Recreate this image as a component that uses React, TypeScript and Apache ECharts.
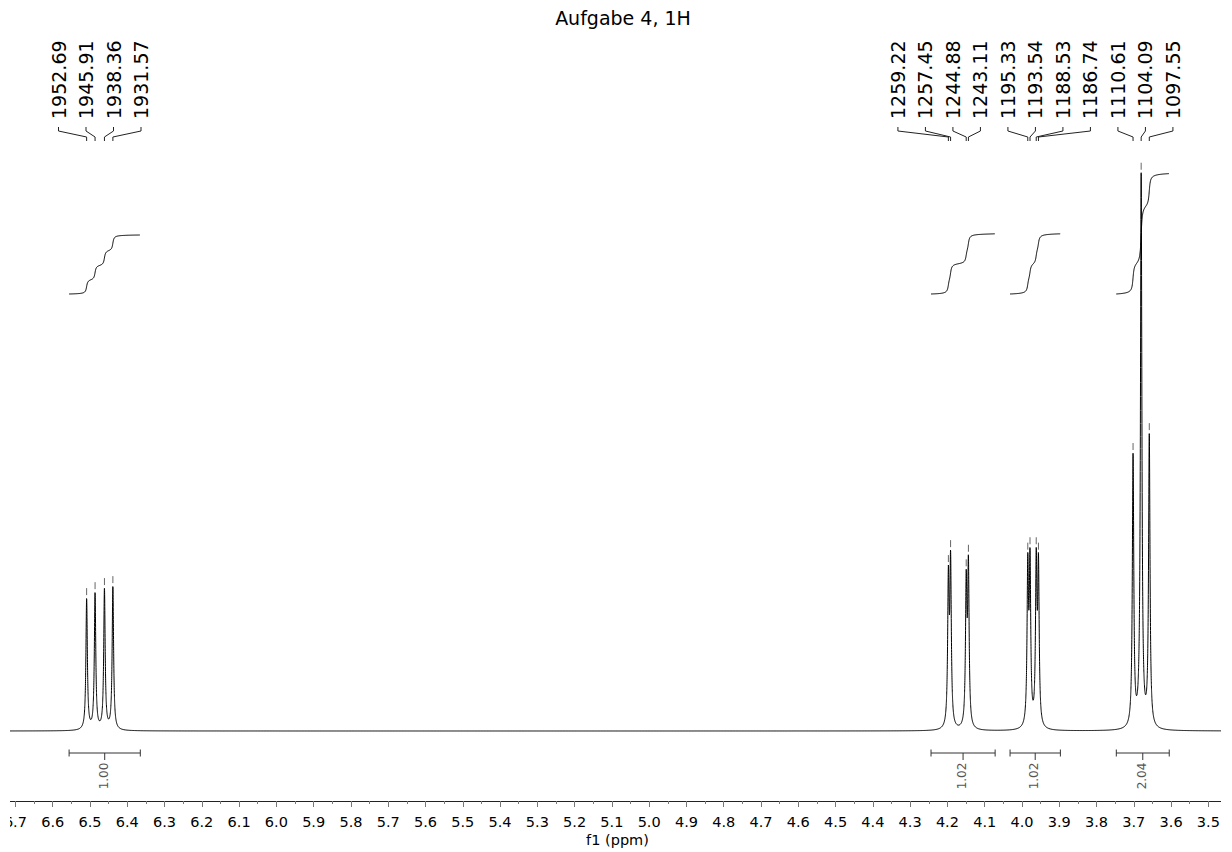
import React, { useEffect, useRef } from "react";
import * as echarts from "echarts";

// 1H spectrum, 300 MHz; peak positions are the picked line positions in Hz
const SPEC_FREQ_MHZ = 300;
const peakHz = [
  1952.69, 1945.91, 1938.36, 1931.57,
  1259.22, 1257.45, 1244.88, 1243.11,
  1195.33, 1193.54, 1188.53, 1186.74,
  1110.61, 1104.09, 1097.55,
];
// line amplitudes (arbitrary intensity units, baseline = 0)
const peakHeight = [
  131, 136, 140, 143,
  144, 161, 140, 157,
  155, 159, 159, 155,
  271, 552, 291,
];
// half width at half maximum of every line, ppm
const LINE_HWHM = 0.0023;

// peak label groups (indices into peakHz)
const labelGroups = [
  [0, 1, 2, 3],
  [4, 5, 6, 7, 8, 9, 10, 11, 12, 13, 14],
];

// integration regions, ppm (left edge, right edge) and normalised integrals
const integralStart = [6.556, 4.244, 4.032, 3.747];
const integralEnd = [6.365, 4.072, 3.897, 3.605];
const integralValue = [1.0, 1.02, 1.02, 2.04];

// axis range and ticks
const AXIS_MIN = 3.4;
const AXIS_MAX = 6.8;
const TICK_STEP = 0.1;

const TITLE = "Aufgabe 4, 1H";
const AXIS_NAME = "f1 (ppm)";

// layout of the integral traces and bars, in intensity units
const INT_BASE = 437;
const INT_UNIT = 59;
const INT_BAR_LEVEL = -22;

const FONT = "DejaVu Sans";

const peakPpm = peakHz.map((hz) => hz / SPEC_FREQ_MHZ);

function intensity(ppm: number): number {
  let s = 0;
  for (let i = 0; i < peakPpm.length; i++) {
    const d = (ppm - peakPpm[i]) / LINE_HWHM;
    s += peakHeight[i] / (1 + d * d);
  }
  return s;
}

function buildSpectrum(): number[][] {
  const pts: number[][] = [];
  let p = AXIS_MAX;
  while (p >= AXIS_MIN) {
    pts.push([p, intensity(p)]);
    const near = peakPpm.some((q) => Math.abs(q - p) < 0.03);
    p -= near ? 0.0001 : 0.002;
  }
  return pts;
}

function buildIntegral(k: number): number[][] {
  const a = integralStart[k];
  const b = integralEnd[k];
  const step = 0.0001;
  const xs: number[] = [];
  const cum: number[] = [];
  let acc = 0;
  for (let p = a; p >= b; p -= step) {
    acc += intensity(p) * step;
    xs.push(p);
    cum.push(acc);
  }
  const total = acc || 1;
  return xs.map((x, i) => [x, INT_BASE + (cum[i] / total) * integralValue[k] * INT_UNIT]);
}

export default function App() {
  const ref = useRef<HTMLDivElement>(null);

  useEffect(() => {
    if (!ref.current) return;
    const chart = echarts.init(ref.current, undefined, { renderer: "svg" });

    const integralSeries = integralValue.map((_, k) => ({
      type: "line",
      data: buildIntegral(k),
      showSymbol: false,
      symbol: "none",
      silent: true,
      lineStyle: { color: "#000", width: 1 },
    }));

    chart.setOption({
      animation: false,
      grid: {
        left: 8.14,
        right: 24.34,
        top: 131,
        bottom: 51,
        containLabel: false,
        outerBoundsMode: "none",
      },
      xAxis: {
        type: "value",
        min: AXIS_MIN,
        max: AXIS_MAX,
        interval: TICK_STEP,
        inverse: true,
        axisLine: { onZero: false, lineStyle: { color: "#222", width: 1 } },
        axisTick: { length: 6, lineStyle: { color: "#777" } },
        minorTick: { show: true, splitNumber: 2, length: 3, lineStyle: { color: "#777" } },
        splitLine: { show: false },
        minorSplitLine: { show: false },
        axisLabel: {
          margin: 13,
          fontSize: 14.5,
          fontFamily: FONT,
          color: "#000",
          showMinLabel: true,
          showMaxLabel: true,
          formatter: (v: number) => v.toFixed(1),
        },
      },
      yAxis: { type: "value", min: -70, max: 600, show: false },
      series: [
        {
          type: "line",
          data: buildSpectrum(),
          showSymbol: false,
          symbol: "none",
          silent: true,
          lineStyle: { color: "#000", width: 1 },
        },
        ...integralSeries,
      ],
    });

    const toPx = (x: number, y: number) =>
      chart.convertToPixel({ gridIndex: 0 }, [x, y]) as number[];

    const graphics: any[] = [];

    // title and axis name
    const titleX = 653;
    graphics.push({
      type: "text",
      x: titleX,
      y: 18,
      silent: true,
      style: { text: TITLE, fontFamily: FONT, fontSize: 19, fill: "#000", align: "center", verticalAlign: "middle" },
    });
    graphics.push({
      type: "text",
      x: 647.5,
      y: 840,
      silent: true,
      style: { text: AXIS_NAME, fontFamily: FONT, fontSize: 14.5, fill: "#000", align: "center", verticalAlign: "middle" },
    });

    // peak markers just above each line's apex
    peakPpm.forEach((p) => {
      const [x, y] = toPx(p, intensity(p));
      graphics.push({
        type: "line",
        silent: true,
        shape: { x1: x, y1: y - 10, x2: x, y2: y - 3 },
        style: { stroke: "#666", lineWidth: 1 },
      });
    });

    // peak labels with connector lines
    const LABEL_SPACING = 27.5;
    labelGroups.forEach((group) => {
      const xs = group.map((i) => toPx(peakPpm[i], 0)[0]);
      const mean = xs.reduce((a, b) => a + b, 0) / xs.length;
      group.forEach((i, j) => {
        const lx = mean + (j - (group.length - 1) / 2) * LABEL_SPACING;
        const px = xs[j];
        graphics.push({
          type: "text",
          x: lx,
          y: 119,
          rotation: Math.PI / 2,
          silent: true,
          style: {
            text: peakHz[i].toFixed(2),
            fontFamily: FONT,
            fontSize: 19,
            fill: "#000",
            align: "left",
            verticalAlign: "middle",
          },
        });
        graphics.push({
          type: "polyline",
          silent: true,
          shape: { points: [[lx, 127], [lx, 131], [px, 137], [px, 141]] },
          style: { stroke: "#222", lineWidth: 1, fill: null },
        });
      });
    });

    // integral bars with their values
    integralValue.forEach((v, k) => {
      const [x1, y] = toPx(integralStart[k], INT_BAR_LEVEL);
      const [x2] = toPx(integralEnd[k], INT_BAR_LEVEL);
      const cx = (x1 + x2) / 2;
      graphics.push({
        type: "polyline",
        silent: true,
        shape: { points: [[x1, y], [x2, y]] },
        style: { stroke: "#333", lineWidth: 1, fill: null },
      });
      [x1, x2].forEach((x) =>
        graphics.push({
          type: "line",
          silent: true,
          shape: { x1: x, y1: y - 3.5, x2: x, y2: y + 3.5 },
          style: { stroke: "#333", lineWidth: 1 },
        })
      );
      graphics.push({
        type: "line",
        silent: true,
        shape: { x1: cx, y1: y, x2: cx, y2: y + 7 },
        style: { stroke: "#333", lineWidth: 1 },
      });
      graphics.push({
        type: "text",
        x: cx - 1,
        y: y + 23,
        rotation: Math.PI / 2,
        silent: true,
        style: {
          text: v.toFixed(2),
          fontFamily: FONT,
          fontSize: 12,
          fill: "#555",
          align: "center",
          verticalAlign: "middle",
        },
      });
    });

    chart.setOption({ graphic: graphics });

    return () => chart.dispose();
  }, []);

  return (
    <div
      style={{
        position: "fixed",
        left: 10,
        top: 0,
        width: 1211,
        height: 852,
        overflow: "hidden",
        background: "#fff",
      }}
    >
      <div ref={ref} style={{ position: "absolute", left: -40, top: 0, width: 1300, height: 852 }} />
    </div>
  );
}
